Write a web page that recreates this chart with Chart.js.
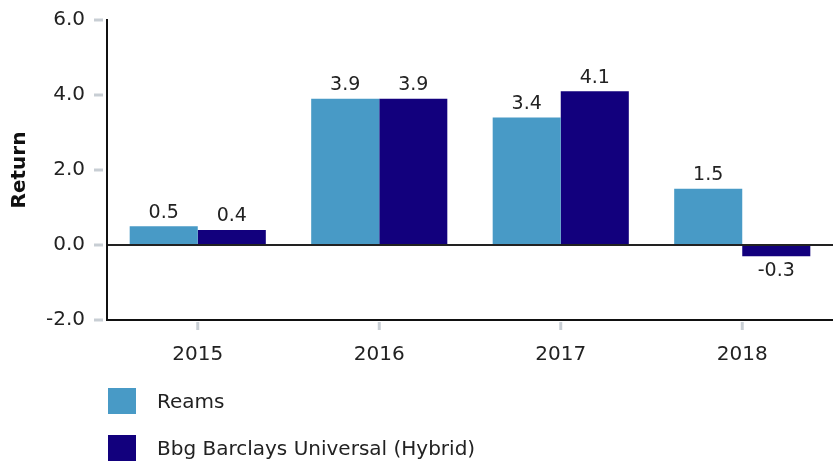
<!DOCTYPE html>
<html>
<head>
<meta charset="utf-8">
<script src="https://cdn.jsdelivr.net/npm/chart.js@4/dist/chart.umd.min.js"></script>
<style>
  html, body { margin: 0; padding: 0; background: #ffffff; }
  #wrap { width: 833px; height: 470px; position: relative; }
</style>
</head>
<body>
<div id="wrap"><canvas id="c" width="833" height="470"></canvas></div>
<script>
// Annual returns by year
const years = ['2015', '2016', '2017', '2018'];
const reams = [0.5, 3.9, 3.4, 1.5];
const bbgUniversal = [0.4, 3.9, 4.1, -0.3];
const seriesNames = ['Reams', 'Bbg Barclays Universal (Hybrid)'];
const yTicks = [-2, 0, 2, 4, 6];

const FONT = 'DejaVu Sans';
const TEXT = '#222222';
const TICK_GREY = '#c8ced4';

// Value labels above (or below, for negatives) each bar
const valueLabels = {
  id: 'valueLabels',
  afterDatasetsDraw(chart) {
    const ctx = chart.ctx;
    ctx.save();
    ctx.font = '19px "' + FONT + '"';
    ctx.fillStyle = TEXT;
    ctx.textAlign = 'center';
    chart.data.datasets.forEach((ds, i) => {
      chart.getDatasetMeta(i).data.forEach((bar, j) => {
        const v = ds.data[j];
        if (v >= 0) {
          ctx.textBaseline = 'bottom';
          ctx.fillText(v.toFixed(1), bar.x, bar.y - 4);
        } else {
          ctx.textBaseline = 'top';
          ctx.fillText(v.toFixed(1), bar.x, bar.y + 5);
        }
      });
    });
    ctx.restore();
  }
};

// Short grey tick marks set slightly off both axes
const tickMarks = {
  id: 'tickMarks',
  afterDraw(chart) {
    const ctx = chart.ctx;
    const area = chart.chartArea;
    const xs = chart.scales.x, ys = chart.scales.y;
    ctx.save();
    ctx.strokeStyle = TICK_GREY;
    ctx.lineWidth = 3;
    ys.ticks.forEach(t => {
      const y = ys.getPixelForValue(t.value);
      ctx.beginPath();
      ctx.moveTo(area.left - 13, y);
      ctx.lineTo(area.left - 4, y);
      ctx.stroke();
    });
    years.forEach((_, i) => {
      const x = xs.getPixelForValue(i);
      ctx.beginPath();
      ctx.moveTo(x, area.bottom + 2);
      ctx.lineTo(x, area.bottom + 10);
      ctx.stroke();
    });
    ctx.restore();
  }
};

// Stacked legend under the plot
const stackedLegend = {
  id: 'stackedLegend',
  afterDraw(chart) {
    const ctx = chart.ctx;
    ctx.save();
    ctx.font = '20px "' + FONT + '"';
    ctx.textAlign = 'left';
    ctx.textBaseline = 'middle';
    chart.data.datasets.forEach((ds, i) => {
      const cy = 401 + i * 47;
      ctx.fillStyle = ds.backgroundColor;
      ctx.fillRect(108, cy - 13, 28, 26);
      ctx.fillStyle = TEXT;
      ctx.fillText(ds.label, 157, cy + 2);
    });
    ctx.restore();
  }
};

new Chart(document.getElementById('c'), {
  type: 'bar',
  data: {
    labels: years,
    datasets: [
      { label: seriesNames[0], data: reams, backgroundColor: '#489ac6' },
      { label: seriesNames[1], data: bbgUniversal, backgroundColor: '#12007d' }
    ]
  },
  options: {
    responsive: false,
    animation: false,
    devicePixelRatio: 1,
    layout: { padding: { top: 20, right: 0, bottom: 88, left: 0 } },
    datasets: { bar: { categoryPercentage: 0.75, barPercentage: 1.0 } },
    plugins: {
      legend: { display: false },
      tooltip: { enabled: false }
    },
    scales: {
      x: {
        grid: { display: false },
        border: { display: true, color: '#111111', width: 2 },
        ticks: { color: TEXT, font: { family: FONT, size: 20 }, padding: 15 }
      },
      y: {
        min: -2,
        max: 6,
        afterBuildTicks: (scale) => { scale.ticks = yTicks.map(v => ({ value: v })); },
        afterFit: (scale) => { scale.width = 107; },
        grid: {
          drawTicks: true,
          tickLength: 20,
          tickColor: 'rgba(0,0,0,0)',
          lineWidth: (c) => (c.tick && c.tick.value === 0 ? 2 : 0),
          color: (c) => (c.tick && c.tick.value === 0 ? '#222222' : 'rgba(0,0,0,0)')
        },
        border: { display: true, color: '#111111', width: 2 },
        ticks: {
          color: TEXT,
          font: { family: FONT, size: 20 },
          padding: 2,
          callback: (v) => Number(v).toFixed(1)
        },
        title: {
          display: true,
          text: 'Return',
          color: '#111111',
          font: { family: FONT, size: 20, weight: 'bold' },
          padding: { top: 8, bottom: 0 }
        }
      }
    }
  },
  plugins: [valueLabels, tickMarks, stackedLegend]
});
</script>
</body>
</html>
